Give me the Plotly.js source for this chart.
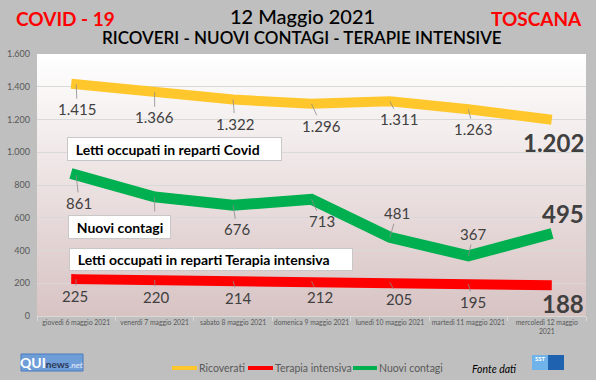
<!DOCTYPE html>
<html>
<head>
<meta charset="utf-8">
<script src="https://cdn.plot.ly/plotly-3.0.1.min.js"></script>
<style>
html,body{margin:0;padding:0;background:#bfbfbf;}
#chart{width:596px;height:380px;}
.js-line{stroke-linecap:square;}
</style>
</head>
<body>
<div id="chart"></div>
<script>
// ---- data ----
const categories = ['giovedì 6 maggio 2021','venerdì 7 maggio 2021','sabato 8 maggio 2021','domenica 9 maggio 2021','lunedì 10 maggio 2021','martedì 11 maggio 2021','mercoledì 12 maggio<br>2021'];
const ricoverati = [1415,1366,1322,1296,1311,1263,1202];
const terapiaIntensiva = [225,220,214,212,205,195,188];
const nuoviContagi = [861,727,676,713,481,367,495];
const yTickValues = [0,200,400,600,800,1000,1200,1400,1600];
const seriesNames = ['Ricoverati','Terapia intensiva','Nuovi contagi'];

// ---- label offsets (pixels, dx, dy downwards); null text = label hidden behind a text box ----
const offRicoverati = [[1,25],[0,25],[2,24],[10,22],[9,18],[5,20],[7,23]];
const offContagi = [[3,28],[0,25],[4,24],[10,22],[7,-24],[5,-22],[16,-21]];
const offTerapia = [[-1,17],[1,17],[5,17],[8,16],[9,17],[5,18],[16,18]];
const hiddenContagi = [false,true,false,false,false,false,false];

// ---- geometry helpers (plot area pixels) ----
const W = 596, H = 380, L = 37, R = 10, T = 54, B = 64;
const PW = W - L - R, PH = H - T - B;
const px = x => (x - L) / PW;
const py = y => (H - B - y) / PH;

const fmt = v => String(v).replace(/\B(?=(\d{3})+(?!\d))/g, '.');
const colors = ['#ffc72c', '#ff0000', '#00b050'];
const FONT = 'Lato, "Open Sans", sans-serif';

const traces = [
  {x: categories, y: ricoverati, name: seriesNames[0], type: 'scatter', mode: 'lines', line: {color: colors[0], width: 10}, hoverinfo: 'skip'},
  {x: categories, y: terapiaIntensiva, name: seriesNames[1], type: 'scatter', mode: 'lines', line: {color: colors[1], width: 10}, hoverinfo: 'skip'},
  {x: categories, y: nuoviContagi, name: seriesNames[2], type: 'scatter', mode: 'lines', line: {color: colors[2], width: 11}, hoverinfo: 'skip'}
];

const annotations = [];
function addLabels(values, offs, hidden) {
  values.forEach((v, i) => {
    const last = i === values.length - 1;
    const isHidden = hidden && hidden[i];
    const a = {
      x: categories[i], y: v, xref: 'x', yref: 'y', text: isHidden ? ' ' : fmt(v),
      font: {family: FONT, size: last ? 24 : 15, color: '#404040', weight: last ? 700 : 400},
      showarrow: !last
    };
    if (last) {
      a.xshift = offs[i][0]; a.yshift = -offs[i][1];
    } else {
      a.ax = offs[i][0]; a.ay = offs[i][1];
      a.arrowhead = 0; a.arrowwidth = 0.8; a.arrowcolor = '#8c8c8c'; a.standoff = 0;
    }
    annotations.push(a);
  });
}
addLabels(ricoverati, offRicoverati);
addLabels(nuoviContagi, offContagi, hiddenContagi);
addLabels(terapiaIntensiva, offTerapia);

// text boxes
function box(text, x0, y0, x1, y1) {
  annotations.push({
    xref: 'paper', yref: 'paper', x: px(x0), y: py(y0), xanchor: 'left', yanchor: 'top',
    width: x1 - x0 - 4, height: y1 - y0 - 4, align: 'left', valign: 'middle',
    text: '\u00a0\u00a0' + text, showarrow: false,
    bgcolor: '#ffffff', bordercolor: '#c8c8c8', borderwidth: 1, borderpad: 1,
    font: {family: FONT, size: 14, color: '#000000', weight: 700}
  });
}
box('Letti occupati in reparti Covid', 67, 137, 282, 161);
box('Nuovi contagi', 68, 215, 171, 239);
box('Letti occupati in reparti Terapia intensiva', 69, 248, 353, 271);

// titles
annotations.push({xref:'paper', yref:'paper', x: px(302), y: py(16), text: '12 Maggio 2021', showarrow:false, xanchor:'center', yanchor:'middle', font:{family:FONT, size:20, color:'#000', weight:500}});
annotations.push({xref:'paper', yref:'paper', x: px(302), y: py(38), text: 'RICOVERI - NUOVI CONTAGI - TERAPIE INTENSIVE', showarrow:false, xanchor:'center', yanchor:'middle', font:{family:FONT, size:17, color:'#000', weight:600}});
annotations.push({xref:'paper', yref:'paper', x: px(14), y: py(18), text: 'COVID - 19', showarrow:false, xanchor:'left', yanchor:'middle', font:{family:FONT, size:19, color:'#ff0000', weight:700}});
annotations.push({xref:'paper', yref:'paper', x: px(584), y: py(18), text: 'TOSCANA', showarrow:false, xanchor:'right', yanchor:'middle', font:{family:FONT, size:19, color:'#ff0000', weight:700}});

// legend (manual)
const shapes = [];
const legendX = [[172,197],[248,273],[353,377]];
seriesNames.forEach((n, i) => {
  shapes.push({type:'line', xref:'paper', yref:'paper', x0: px(legendX[i][0]), x1: px(legendX[i][1]), y0: py(368), y1: py(368), line:{color: colors[i], width: 4}});
  annotations.push({xref:'paper', yref:'paper', x: px(legendX[i][1]), y: py(368), text: n, showarrow:false, xanchor:'left', yanchor:'middle', font:{family:FONT, size:10.5, color:'#595959'}});
});
annotations.push({xref:'paper', yref:'paper', x: px(494), y: py(369), text: '<i>Fonte dati</i>', showarrow:false, xanchor:'center', yanchor:'middle', font:{family:FONT, size:10.5, color:'#000'}});

// logos
shapes.push({type:'rect', xref:'paper', yref:'paper', x0: px(21), x1: px(83), y0: py(371), y1: py(354), fillcolor:'#6f9dd8', line:{color:'#4a7cbf', width:1}});
annotations.push({xref:'paper', yref:'paper', x: px(51), y: py(362.5), text: '<b>QUI</b><span style="font-size:10px;color:#2b3a55"><b>news</b></span><span style="font-size:8.5px;color:#e8f0fb"><i>.net</i></span>', showarrow:false, xanchor:'center', yanchor:'middle', font:{family:FONT, size:14, color:'#ffffff'}});
shapes.push({type:'rect', xref:'paper', yref:'paper', x0: px(532), x1: px(548), y0: py(370), y1: py(355), fillcolor:'#6fb3ea', line:{width:0}});
shapes.push({type:'rect', xref:'paper', yref:'paper', x0: px(548), x1: px(564), y0: py(370), y1: py(355), fillcolor:'#1f63b0', line:{width:0}});
annotations.push({xref:'paper', yref:'paper', x: px(540), y: py(359), text: '<b>SST</b>', showarrow:false, xanchor:'center', yanchor:'middle', font:{family:FONT, size:6, color:'#ffffff'}});

// gradient background for plot area
const svg = '<svg xmlns="http://www.w3.org/2000/svg" width="100" height="100" preserveAspectRatio="none"><defs><linearGradient id="g" x1="0" y1="0" x2="0" y2="1"><stop offset="0" stop-color="#ffffff"/><stop offset="1" stop-color="#d8c3c3"/></linearGradient></defs><rect width="100" height="100" fill="url(#g)"/></svg>';
const images = [{source: 'data:image/svg+xml;charset=utf-8,' + encodeURIComponent(svg), xref:'paper', yref:'paper', x:0, y:1, sizex:1, sizey:1, sizing:'stretch', xanchor:'left', yanchor:'top', layer:'below'}];

const layout = {
  width: W, height: H,
  margin: {l: L, r: R, t: T, b: B, pad: 0},
  paper_bgcolor: '#bfbfbf', plot_bgcolor: 'rgba(0,0,0,0)',
  separators: ',.',
  showlegend: false,
  font: {family: FONT},
  xaxis: {type:'category', range:[-0.5, 6.5], showgrid:false, showline:true, linecolor:'#d9d9d9', linewidth:1,
          ticks:'outside', tickson:'boundaries', ticklen:4, tickcolor:'#d9d9d9',
          tickfont:{family:FONT, size:6.8, color:'#595959'}, fixedrange:true, tickangle:0},
  yaxis: {range:[0,1600], tickvals: yTickValues, tickformat:',d', showgrid:true, gridcolor:'#d9d9d9', gridwidth:1,
          zeroline:false, showline:false, ticks:'', ticklabelstandoff:6,
          tickfont:{family:FONT, size:9, color:'#595959'}, fixedrange:true},
  annotations: annotations,
  shapes: shapes,
  images: images
};

Plotly.newPlot('chart', traces, layout, {staticPlot:true, displayModeBar:false});
</script>
</body>
</html>
